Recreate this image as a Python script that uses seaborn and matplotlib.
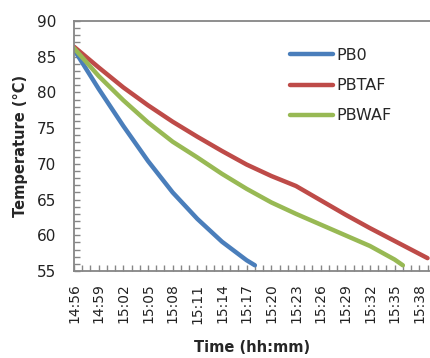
import matplotlib
matplotlib.use("Agg")
import matplotlib.pyplot as plt
import matplotlib.dates as mdates
from matplotlib.ticker import MultipleLocator
import seaborn as sns
import pandas as pd

# ---- data ----
series_names = ["PB0", "PBTAF", "PBWAF"]
colors = ["#4A7EBB", "#BE4B48", "#98B954"]

pb0_times = ["14:56", "14:59", "15:02", "15:05", "15:08", "15:11", "15:14", "15:17", "15:18"]
pb0_temps = [86.0, 80.5, 75.3, 70.4, 66.0, 62.3, 59.1, 56.5, 55.8]

pbtaf_times = ["14:56", "14:59", "15:02", "15:05", "15:08", "15:11", "15:14", "15:17",
               "15:20", "15:23", "15:26", "15:29", "15:32", "15:35", "15:38", "15:39"]
pbtaf_temps = [86.4, 83.5, 80.7, 78.2, 75.9, 73.8, 71.8, 69.9,
               68.3, 66.9, 64.9, 62.9, 61.0, 59.2, 57.4, 56.8]

pbwaf_times = ["14:56", "14:59", "15:02", "15:05", "15:08", "15:11", "15:14", "15:17",
               "15:20", "15:23", "15:26", "15:29", "15:32", "15:35", "15:36"]
pbwaf_temps = [86.2, 82.3, 78.9, 75.8, 73.1, 70.9, 68.6, 66.5,
               64.6, 63.0, 61.5, 60.0, 58.5, 56.6, 55.8]

y_ticks = [55, 60, 65, 70, 75, 80, 85, 90]

# ---- build long table ----
frames = []
for name, t, v in [("PB0", pb0_times, pb0_temps),
                   ("PBTAF", pbtaf_times, pbtaf_temps),
                   ("PBWAF", pbwaf_times, pbwaf_temps)]:
    frames.append(pd.DataFrame({
        "time": pd.to_datetime(["2020-01-01 " + s for s in t]),
        "temp": v,
        "series": name,
    }))
df = pd.concat(frames, ignore_index=True)

sns.set_style("white")
plt.rcParams["font.family"] = ["DejaVu Sans"]

fig = plt.figure(figsize=(4.30, 3.58), dpi=100)
ax = fig.add_axes([74 / 430, 1 - 271 / 358, 1 - 74 / 430, (271 - 21) / 358])

sns.lineplot(data=df, x="time", y="temp", hue="series", hue_order=series_names,
             palette=colors, linewidth=3.2, ax=ax, legend=True, sort=True)
for ln in ax.get_lines():
    ln.set_solid_capstyle("round")

start = pd.Timestamp("2020-01-01 14:56")
ax.set_xlim(start, start + pd.Timedelta(minutes=43.3))
ax.set_ylim(55, 90)
ax.set_yticks(y_ticks)
ax.yaxis.set_minor_locator(MultipleLocator(1))
ax.xaxis.set_major_locator(mdates.MinuteLocator(byminute=range(56 % 3, 60, 3)))
ax.xaxis.set_minor_locator(mdates.MinuteLocator())
ax.xaxis.set_major_formatter(mdates.DateFormatter("%H:%M"))

spine_col = "#868686"
for s in ["left", "bottom", "top"]:
    ax.spines[s].set_color(spine_col)
    ax.spines[s].set_linewidth(1.3)
ax.spines["right"].set_visible(False)

ax.tick_params(axis="both", which="both", direction="in", color=spine_col,
               width=1.0, length=4, labelcolor="#222222")
ax.tick_params(axis="x", which="major", pad=9, labelrotation=90, labelsize=10)
ax.tick_params(axis="y", which="major", pad=13, labelsize=11)
ax.tick_params(axis="x", which="both", bottom=True, top=False)
ax.tick_params(axis="y", which="both", left=True, right=False)

ax.set_xlabel("Time (hh:mm)", fontsize=10.5, fontweight="bold", va="center")
ax.xaxis.set_label_coords(0.5, (271 - 348) / 250)
ax.set_ylabel("Temperature (°C)", fontsize=10.5, fontweight="bold", va="center")
ax.yaxis.set_label_coords((21 - 74) / 356, 0.5)

handles, labels = ax.get_legend_handles_labels()
ax.get_legend().remove()
leg = fig.legend(handles, labels, loc="upper left",
                 bbox_to_anchor=(290 / 430, 1 - 48 / 358),
                 frameon=False, fontsize=11.5, handlelength=2.7,
                 handletextpad=0.2, labelspacing=0.95, borderpad=0, borderaxespad=0)
for h in leg.get_lines():
    h.set_linewidth(3.2)
    h.set_solid_capstyle("round")

fig.savefig("out.png", dpi=100)
